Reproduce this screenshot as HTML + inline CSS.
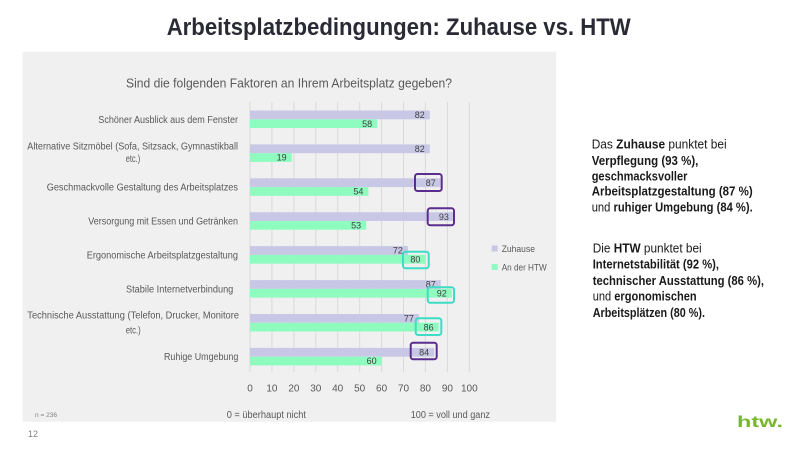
<!DOCTYPE html>
<html>
<head>
<meta charset="utf-8">
<style>
html,body{margin:0;padding:0;background:#fff;}
svg{display:block;}
text{font-family:"Liberation Sans",sans-serif;}
</style>
</head>
<body>
<svg width="800" height="450" viewBox="0 0 800 450" xmlns="http://www.w3.org/2000/svg">
  <rect x="0" y="0" width="800" height="450" fill="#ffffff"/>
  <!-- Title -->
  <text x="166.7" y="35" font-size="24.5" font-weight="bold" fill="#2a2a35" textLength="464" lengthAdjust="spacingAndGlyphs">Arbeitsplatzbedingungen: Zuhause vs. HTW</text>

  <!-- Panel -->
  <rect x="22.6" y="51.7" width="533.6" height="370" fill="#f0f0f0"/>

  <!-- Subtitle -->
  <text x="126" y="87.5" font-size="12.5" fill="#595959" textLength="326" lengthAdjust="spacingAndGlyphs">Sind die folgenden Faktoren an Ihrem Arbeitsplatz gegeben?</text>

  <!-- Gridlines -->
  <g stroke="#d9d9d9" stroke-width="1">
    <line x1="250" y1="102" x2="250" y2="372"/>
    <line x1="271.9" y1="102" x2="271.9" y2="372"/>
    <line x1="293.9" y1="102" x2="293.9" y2="372"/>
    <line x1="315.8" y1="102" x2="315.8" y2="372"/>
    <line x1="337.7" y1="102" x2="337.7" y2="372"/>
    <line x1="359.7" y1="102" x2="359.7" y2="372"/>
    <line x1="381.6" y1="102" x2="381.6" y2="372"/>
    <line x1="403.5" y1="102" x2="403.5" y2="372"/>
    <line x1="425.4" y1="102" x2="425.4" y2="372"/>
    <line x1="447.4" y1="102" x2="447.4" y2="372"/>
    <line x1="469.3" y1="102" x2="469.3" y2="372"/>
  </g>

  <!-- Tick labels -->
  <g font-size="10" fill="#595959" text-anchor="middle">
    <text x="250" y="391.5">0</text>
    <text x="271.9" y="391.5">10</text>
    <text x="293.9" y="391.5">20</text>
    <text x="315.8" y="391.5">30</text>
    <text x="337.7" y="391.5">40</text>
    <text x="359.7" y="391.5">50</text>
    <text x="381.6" y="391.5">60</text>
    <text x="403.5" y="391.5">70</text>
    <text x="425.4" y="391.5">80</text>
    <text x="447.4" y="391.5">90</text>
    <text x="469.3" y="391.5">100</text>
  </g>

  <!-- Bars Zuhause -->
  <g fill="#c8c8e6">
    <rect x="250" y="110.5" width="179.8" height="8.8"/>
    <rect x="250" y="144.4" width="179.8" height="8.8"/>
    <rect x="250" y="178.3" width="190.8" height="8.8"/>
    <rect x="250" y="212.2" width="203.9" height="8.8"/>
    <rect x="250" y="246.1" width="157.9" height="8.8"/>
    <rect x="250" y="280.1" width="190.8" height="8.8"/>
    <rect x="250" y="314.0" width="168.9" height="8.8"/>
    <rect x="250" y="347.9" width="184.2" height="8.8"/>
  </g>
  <!-- Bars HTW -->
  <g fill="#8efbbf">
    <rect x="250" y="119.3" width="127.2" height="8.7"/>
    <rect x="250" y="153.2" width="41.7" height="8.7"/>
    <rect x="250" y="187.1" width="118.4" height="8.7"/>
    <rect x="250" y="221.0" width="116.2" height="8.7"/>
    <rect x="250" y="254.9" width="175.4" height="8.7"/>
    <rect x="250" y="288.9" width="201.8" height="8.7"/>
    <rect x="250" y="322.8" width="188.6" height="8.7"/>
    <rect x="250" y="356.7" width="131.6" height="8.7"/>
  </g>

  <!-- Value labels -->
  <g font-size="9" fill="#404040" text-anchor="end">
    <text x="424.8" y="118.1">82</text>
    <text x="424.8" y="152.0">82</text>
    <text x="435.8" y="185.9">87</text>
    <text x="448.9" y="219.8">93</text>
    <text x="402.9" y="253.7">72</text>
    <text x="435.8" y="287.7">87</text>
    <text x="413.9" y="321.6">77</text>
    <text x="429.2" y="355.5">84</text>

    <text x="372.2" y="126.8">58</text>
    <text x="286.7" y="160.7">19</text>
    <text x="363.4" y="194.6">54</text>
    <text x="361.2" y="228.5">53</text>
    <text x="420.4" y="262.4">80</text>
    <text x="446.8" y="296.4">92</text>
    <text x="433.6" y="330.3">86</text>
    <text x="376.6" y="364.2">60</text>
  </g>

  <!-- Highlight boxes -->
  <g fill="none" stroke-width="2">
    <rect x="415" y="174" width="26.7" height="17" rx="2.5" stroke="#5b2d8e"/>
    <rect x="427.7" y="208.3" width="26.3" height="17" rx="2.5" stroke="#5b2d8e"/>
    <rect x="410.7" y="342.7" width="26" height="16.6" rx="2.5" stroke="#5b2d8e"/>
    <rect x="403" y="251.7" width="25.7" height="16.6" rx="2.5" stroke="#3ddcc4"/>
    <rect x="427.7" y="287.3" width="26.3" height="15.5" rx="2.5" stroke="#3ddcc4"/>
    <rect x="415.7" y="318.3" width="25.6" height="16.7" rx="2.5" stroke="#3ddcc4"/>
  </g>

  <!-- Category labels -->
  <g font-size="10" fill="#595959">
    <text x="98.3" y="122.8" textLength="139.7" lengthAdjust="spacingAndGlyphs">Schöner Ausblick aus dem Fenster</text>
    <text x="27.3" y="149.5" textLength="210.7" lengthAdjust="spacingAndGlyphs">Alternative Sitzmöbel (Sofa, Sitzsack, Gymnastikball</text>
    <text x="125.7" y="162.2" textLength="14.5" lengthAdjust="spacingAndGlyphs">etc.)</text>
    <text x="46.7" y="190.6" textLength="191.3" lengthAdjust="spacingAndGlyphs">Geschmackvolle Gestaltung des Arbeitsplatzes</text>
    <text x="88.3" y="224.5" textLength="149.7" lengthAdjust="spacingAndGlyphs">Versorgung mit Essen und Getränken</text>
    <text x="86.7" y="258.4" textLength="151.3" lengthAdjust="spacingAndGlyphs">Ergonomische Arbeitsplatzgestaltung</text>
    <text x="126" y="292.4" textLength="107.3" lengthAdjust="spacingAndGlyphs">Stabile Internetverbindung</text>
    <text x="27.3" y="318.5" textLength="211.7" lengthAdjust="spacingAndGlyphs">Technische Ausstattung (Telefon, Drucker, Monitore</text>
    <text x="125.7" y="333.5" textLength="15" lengthAdjust="spacingAndGlyphs">etc.)</text>
    <text x="164" y="360.2" textLength="74.3" lengthAdjust="spacingAndGlyphs">Ruhige Umgebung</text>
  </g>

  <!-- Legend -->
  <rect x="491.7" y="245.5" width="6" height="6" fill="#c8c8e6"/>
  <text x="501.7" y="251.8" font-size="9.5" fill="#595959" textLength="33.3" lengthAdjust="spacingAndGlyphs">Zuhause</text>
  <rect x="491.7" y="264" width="6" height="6" fill="#8efbbf"/>
  <text x="501.7" y="270.5" font-size="9.5" fill="#595959" textLength="45" lengthAdjust="spacingAndGlyphs">An der HTW</text>

  <!-- Bottom notes -->
  <text x="35" y="417" font-size="6" fill="#808080" textLength="22" lengthAdjust="spacingAndGlyphs">n = 236</text>
  <text x="226.7" y="418" font-size="10" fill="#595959" textLength="79.3" lengthAdjust="spacingAndGlyphs">0 = überhaupt nicht</text>
  <text x="410.7" y="418" font-size="10" fill="#595959" textLength="79.3" lengthAdjust="spacingAndGlyphs">100 = voll und ganz</text>
  <text x="28" y="437" font-size="9" fill="#808080">12</text>

  <!-- Right commentary -->
  <g font-size="12.5" fill="#1a1a1a">
    <text x="591.7" y="148.4" textLength="135" lengthAdjust="spacingAndGlyphs">Das <tspan font-weight="bold">Zuhause</tspan> punktet bei</text>
    <text x="591.7" y="164.9" textLength="106.7" lengthAdjust="spacingAndGlyphs" font-weight="bold">Verpflegung (93 %),</text>
    <text x="591.7" y="180.4" textLength="95.7" lengthAdjust="spacingAndGlyphs" font-weight="bold">geschmacksvoller</text>
    <text x="591.7" y="195.4" textLength="161" lengthAdjust="spacingAndGlyphs" font-weight="bold">Arbeitsplatzgestaltung (87 %)</text>
    <text x="591.7" y="211.7" textLength="161" lengthAdjust="spacingAndGlyphs">und <tspan font-weight="bold">ruhiger Umgebung (84 %).</tspan></text>

    <text x="592.7" y="252.7" textLength="109" lengthAdjust="spacingAndGlyphs">Die <tspan font-weight="bold">HTW</tspan> punktet bei</text>
    <text x="592.7" y="268.4" textLength="126.3" lengthAdjust="spacingAndGlyphs" font-weight="bold">Internetstabilität (92 %),</text>
    <text x="592.7" y="285.1" textLength="171.3" lengthAdjust="spacingAndGlyphs" font-weight="bold">technischer Ausstattung (86 %),</text>
    <text x="592.7" y="300.4" textLength="104" lengthAdjust="spacingAndGlyphs">und <tspan font-weight="bold">ergonomischen</tspan></text>
    <text x="592.7" y="317.1" textLength="112.3" lengthAdjust="spacingAndGlyphs" font-weight="bold">Arbeitsplätzen (80 %).</text>
  </g>

  <!-- htw logo -->
  <text x="737" y="427" font-size="16" font-weight="bold" fill="#76b82a" textLength="46" lengthAdjust="spacingAndGlyphs">htw.</text>
</svg>
</body>
</html>
